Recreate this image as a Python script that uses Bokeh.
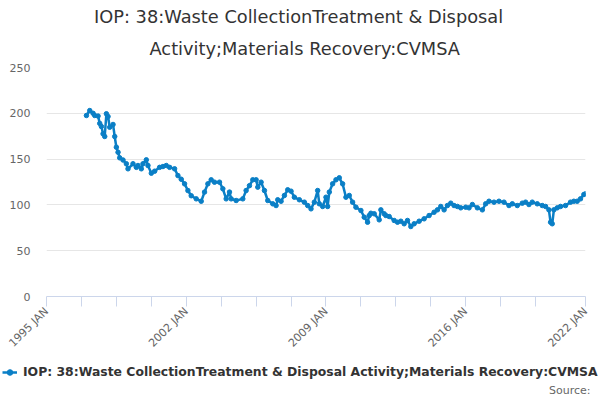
from math import pi
from bokeh.plotting import figure
from bokeh.layouts import column
from bokeh.models import (Range1d, FixedTicker, Legend, LegendItem, Title, Label,
                          ColumnDataSource)
from bokeh.embed import file_html
from bokeh.resources import INLINE

# ---------------- data ----------------
title_lines = ["IOP: 38:Waste CollectionTreatment & Disposal",
               "Activity;Materials Recovery:CVMSA"]
series_name = "IOP: 38:Waste CollectionTreatment & Disposal Activity;Materials Recovery:CVMSA"
source_text = "Source:"

dates = [
    "1997-01", "1997-03", "1997-05", "1997-06", "1997-08", "1997-09", "1997-10", "1997-11", "1997-12",
    "1998-01", "1998-02", "1998-03", "1998-05", "1998-06", "1998-07", "1998-08", "1998-09", "1998-11",
    "1999-01", "1999-02", "1999-05", "1999-07", "1999-08", "1999-10", "1999-11",
    "2000-01", "2000-02", "2000-04", "2000-06", "2000-09", "2000-11",
    "2001-01", "2001-03", "2001-06", "2001-08", "2001-10", "2001-12",
    "2002-02", "2002-04", "2002-07", "2002-10", "2002-12",
    "2003-02", "2003-04", "2003-06", "2003-09", "2003-11",
    "2004-01", "2004-03", "2004-04", "2004-07", "2004-11",
    "2005-01", "2005-03", "2005-05", "2005-07", "2005-08", "2005-10", "2005-12",
    "2006-02", "2006-05", "2006-07", "2006-08", "2006-10", "2006-12",
    "2007-02", "2007-04", "2007-06", "2007-09", "2007-12",
    "2008-02", "2008-04", "2008-06", "2008-08", "2008-09", "2008-11",
    "2009-01", "2009-02", "2009-03", "2009-05", "2009-07", "2009-09", "2009-11",
    "2010-01", "2010-03", "2010-05", "2010-07", "2010-10", "2010-12",
    "2011-02", "2011-03", "2011-04", "2011-06", "2011-09", "2011-10", "2011-12",
    "2012-01", "2012-03", "2012-06", "2012-08", "2012-10", "2012-12",
    "2013-02", "2013-04", "2013-06", "2013-09", "2013-12",
    "2014-03", "2014-06", "2014-08", "2014-10", "2014-12",
    "2015-02", "2015-04", "2015-06", "2015-08", "2015-10",
    "2016-01", "2016-03", "2016-05", "2016-08", "2016-11",
    "2017-01", "2017-03", "2017-06", "2017-09", "2017-12",
    "2018-03", "2018-05", "2018-08", "2018-11",
    "2019-01", "2019-03", "2019-05", "2019-08", "2019-11",
    "2020-01", "2020-03", "2020-04", "2020-05", "2020-06", "2020-08", "2020-10",
    "2021-01", "2021-04", "2021-06", "2021-08", "2021-10", "2021-12",
    "2022-01",
]
values = [
    197.6, 203.0, 200.0, 197.6, 197.0, 189.0, 185.6, 177.6, 174.7,
    199.5, 196.5, 184.8, 187.8, 174.7, 163.0, 157.5, 151.4, 149.0,
    144.9, 139.4, 144.9, 141.0, 143.0, 139.4, 144.9,
    149.2, 143.0, 134.6, 136.8, 141.0, 141.9,
    143.0, 141.0, 139.4, 132.0, 128.0, 123.0,
    115.7, 110.0, 106.6, 104.0, 114.0,
    123.0, 127.4, 124.8, 124.8, 117.6,
    106.6, 114.0, 106.6, 104.8, 106.6,
    115.7, 121.0, 127.4, 127.4, 119.4, 124.8, 115.7,
    104.8, 101.2, 99.3, 105.6, 104.0, 110.3,
    116.5, 115.0, 108.4, 105.6, 103.0,
    99.3, 95.7, 103.0, 115.7, 101.2, 98.3,
    108.4, 98.3, 114.0, 123.0, 127.4, 129.6, 123.0,
    108.4, 110.3, 103.0, 97.5, 93.9, 86.6,
    81.1, 88.4, 90.9, 90.3, 83.7, 94.6, 90.3,
    88.4, 87.3, 83.0, 81.1, 82.2, 79.4,
    83.0, 76.4, 79.4, 82.2, 84.8,
    88.4, 92.0, 94.6, 98.3, 94.6,
    99.3, 101.9, 99.3, 98.3, 96.8,
    97.5, 96.8, 100.4, 96.8, 94.6,
    101.2, 104.0, 103.0, 104.0, 103.0,
    99.3, 101.2, 99.3, 101.9,
    103.0, 100.4, 103.0, 101.2, 99.3,
    98.3, 94.6, 81.1, 79.4, 94.6, 96.8, 98.3,
    99.3, 103.0, 104.0, 104.0, 106.6, 111.3,
    112.1,
]

x_tick_years = [1995, 2002, 2009, 2016, 2022]
x_tick_labels = ["1995 JAN", "2002 JAN", "2009 JAN", "2016 JAN", "2022 JAN"]
x_minor_years = [1996.75, 1998.5, 2000.25, 2003.75, 2005.5, 2007.25,
                 2010.75, 2012.5, 2014.25, 2017.75, 2019.5]
y_ticks = [0, 50, 100, 150, 200, 250]

# ---------------- build ----------------
xs = [int(d[:4]) + (int(d[5:7]) - 1) / 12.0 for d in dates]
src = ColumnDataSource(data=dict(x=xs, y=values))

FONT = "DejaVu Sans"
BLUE = "#0a7fc6"

p = figure(width=600, height=360, output_backend="svg", toolbar_location=None,
           x_range=Range1d(1995, 2022), y_range=Range1d(0, 250),
           min_border_left=46, min_border_right=15, min_border_top=67,
           min_border_bottom=64)
p.frame_align = False
p.outline_line_color = None
p.background_fill_color = "white"
p.border_fill_color = "white"

r_line = p.line("x", "y", source=src, line_color=BLUE, line_width=2.5)
r_pts = p.scatter("x", "y", source=src, marker="circle", size=4.5,
                  fill_color=BLUE, line_color=BLUE)

# x axis
xa = p.xaxis[0]
xa.ticker = FixedTicker(ticks=x_tick_years, minor_ticks=x_minor_years)
xa.major_label_overrides = {y: l for y, l in zip(x_tick_years, x_tick_labels)}
xa.major_label_orientation = pi / 4
xa.major_label_text_font = FONT
xa.major_label_text_font_size = "11px"
xa.major_label_text_color = "#666666"
xa.major_label_standoff = 3
xa.axis_line_color = "#ccd6eb"
xa.major_tick_line_color = "#ccd6eb"
xa.minor_tick_line_color = "#ccd6eb"
xa.major_tick_in = 0
xa.major_tick_out = 10
xa.minor_tick_in = 0
xa.minor_tick_out = 10
p.xgrid.grid_line_color = None

# y axis
ya = p.yaxis[0]
ya.ticker = FixedTicker(ticks=y_ticks)
ya.major_label_text_font = FONT
ya.major_label_text_font_size = "11px"
ya.major_label_text_color = "#666666"
ya.axis_line_color = None
ya.major_tick_line_color = None
ya.minor_tick_line_color = None
ya.major_tick_in = 0
ya.major_tick_out = 0
ya.major_label_standoff = 16
p.ygrid.grid_line_color = "#e6e6e6"
p.ygrid.ticker = FixedTicker(ticks=y_ticks)

# two title lines, each centred on the canvas (the first added sits nearest the frame)
p.add_layout(Title(text=title_lines[1], align="left", offset=103,
                   text_font=FONT, text_font_size="17.8px",
                   text_font_style="normal", text_color="#333333",
                   text_line_height=0.7, standoff=17.5), "above")
p.add_layout(Title(text=title_lines[0], align="left", offset=47.5,
                   text_font=FONT, text_font_size="17.8px",
                   text_font_style="normal", text_color="#333333",
                   standoff=0), "above")

# footer with the legend and the source note
f = figure(width=600, height=40, output_backend="svg", toolbar_location=None,
           x_range=Range1d(0, 600), y_range=Range1d(0, 40),
           x_axis_type=None, y_axis_type=None,
           min_border_left=0, min_border_right=0, min_border_top=0,
           min_border_bottom=0)
f.frame_align = False
f.outline_line_color = None
f.xgrid.visible = False
f.ygrid.visible = False
# same series, far outside this footer's ranges: only its legend swatch shows
f_line = f.line("x", "y", source=src, line_color=BLUE, line_width=2.5)
f_pts = f.scatter("x", "y", source=src, marker="circle", size=4.5,
                  fill_color=BLUE, line_color=BLUE)

legend = Legend(items=[LegendItem(label=series_name, renderers=[f_line, f_pts])],
                location=(2, 21), orientation="horizontal",
                label_text_font=FONT, label_text_font_size="12.4px",
                label_text_font_style="bold", label_text_color="#333333",
                glyph_width=15, glyph_height=14, label_height=14,
                label_standoff=6, padding=0, margin=0, spacing=0,
                border_line_color=None, background_fill_alpha=0)
f.add_layout(legend)

f.add_layout(Label(x=590, y=10, x_units="screen", y_units="screen",
                   text=source_text, text_align="right", text_baseline="middle",
                   text_font=FONT, text_font_size="11px",
                   text_color="#666666"))

layout = column(p, f, spacing=0)
open("out.html", "w").write(file_html(layout, INLINE))
